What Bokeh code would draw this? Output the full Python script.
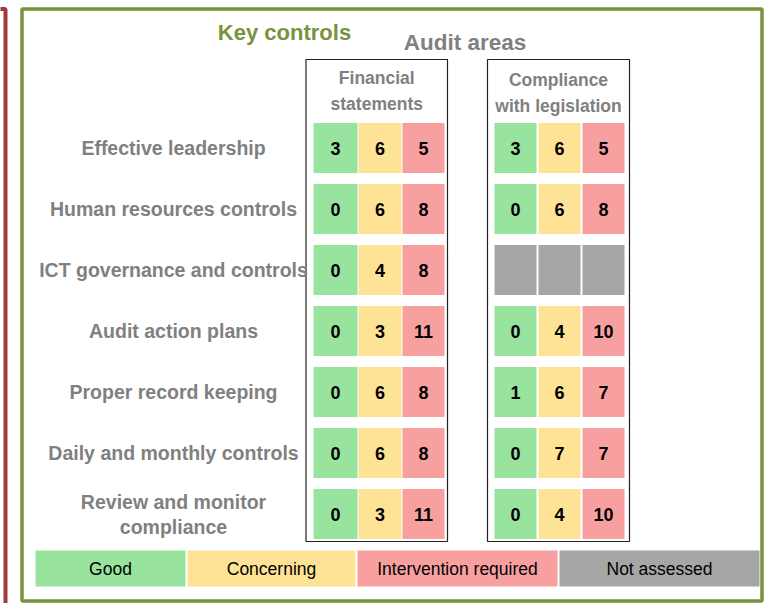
from bokeh.plotting import figure
from bokeh.models import Range1d, ColumnDataSource
from bokeh.embed import file_html
from bokeh.resources import INLINE
from bokeh.core.properties import value

# ---------------- data ----------------
controls = ["Effective leadership", "Human resources controls", "ICT governance and controls",
            "Audit action plans", "Proper record keeping", "Daily and monthly controls",
            "Review and monitor\ncompliance"]
areas = ["Financial\nstatements", "Compliance\nwith legislation"]
fin_good = [3, 0, 0, 0, 0, 0, 0]
fin_concerning = [6, 6, 4, 3, 6, 6, 3]
fin_intervention = [5, 8, 8, 11, 8, 8, 11]
comp_good = [3, 0, None, 0, 1, 0, 0]
comp_concerning = [6, 6, None, 4, 6, 7, 4]
comp_intervention = [5, 8, None, 10, 7, 7, 10]
legend_labels = ["Good", "Concerning", "Intervention required", "Not assessed"]
title_left = "Key controls"
title_right = "Audit areas"

# ---------------- style ----------------
GREEN = "#98E39E"
YELLOW = "#FEE396"
RED = "#F8A0A0"
GRAY = "#A6A6A6"
TXT_GRAY = "#808080"
FONT = "Liberation Sans"
status_colors = [GREEN, YELLOW, RED]

W, H = 765, 603
p = figure(width=W, height=H, output_backend="svg", toolbar_location=None,
           x_range=Range1d(0, W), y_range=Range1d(H, 0), min_border=0)
p.axis.visible = False
p.grid.visible = False
p.outline_line_color = None
p.background_fill_color = "white"
p.border_fill_color = "white"

# outer borders
p.line(x=[-5, 5, 5], y=[8.5, 8.5, 610], line_color="#A0393A", line_width=4)
p.rect(x=[391.5], y=[304.5], width=[740], height=[592], fill_color=None,
       line_color="#77933C", line_width=3.5)

# titles
p.text(x=[284], y=[32], text=[title_left], text_font=value(FONT), text_font_style="bold",
       text_font_size="22px", text_color="#77933C", text_align="center", text_baseline="middle")
p.text(x=[464.5], y=[42], text=[title_right], text_font=value(FONT), text_font_style="bold",
       text_font_size="22.5px", text_color=TXT_GRAY, text_align="center", text_baseline="middle")

# geometry
row_top0, row_pitch, cell_h = 122.5, 61, 50
area_col_centers = [[335, 379.5, 423], [515, 559, 603]]
area_col_widths = [[44, 43, 42], [42, 42, 42]]
area_box = [(305.5, 447), (487, 629)]
area_head_y = [77, 79]

# area boxes and headers
for a, name in enumerate(areas):
    x0, x1 = area_box[a]
    p.rect(x=[(x0 + x1) / 2], y=[300], width=[x1 - x0], height=[482],
           fill_color=None, line_color="#222222", line_width=1.2)
    lines = name.split("\n")
    p.text(x=[(x0 + x1) / 2] * len(lines), y=[area_head_y[a] + 26.5 * i for i in range(len(lines))],
           text=lines, text_font=value(FONT), text_font_style="bold", text_font_size="17.5px",
           text_color=TXT_GRAY, text_align="center", text_baseline="middle")

# row labels
for r, lab in enumerate(controls):
    cy = row_top0 + r * row_pitch + cell_h / 2
    lines = lab.split("\n")
    n = len(lines)
    ys = [cy + (i - (n - 1) / 2) * 25 for i in range(n)]
    p.text(x=[173] * n, y=ys, text=lines, text_font=value(FONT), text_font_style="bold",
           text_font_size="19.5px", text_color=TXT_GRAY, text_align="center", text_baseline="middle")

# cells
area_values = [[fin_good, fin_concerning, fin_intervention],
               [comp_good, comp_concerning, comp_intervention]]
xs, ys, ws, cs, labels = [], [], [], [], []
for a in range(2):
    for k in range(3):
        vals = area_values[a][k]
        for r, v in enumerate(vals):
            xs.append(area_col_centers[a][k])
            ys.append(row_top0 + r * row_pitch + cell_h / 2)
            ws.append(area_col_widths[a][k])
            cs.append(status_colors[k] if v is not None else GRAY)
            labels.append("" if v is None else str(v))
src = ColumnDataSource(dict(x=xs, y=ys, w=ws, c=cs, t=labels))
p.rect(x="x", y="y", width="w", height=cell_h, fill_color="c", line_color=None, source=src)
p.text(x="x", y="y", text="t", source=src, text_font=value(FONT), text_font_style="bold",
       text_font_size="18px", text_color="black", text_align="center", text_baseline="middle")

# legend bar
leg_edges = [(35, 185), (187, 355), (357, 557), (559, 759)]
leg_colors = [GREEN, YELLOW, RED, GRAY]
lx = [(a + b) / 2 for a, b in leg_edges]
lw = [b - a for a, b in leg_edges]
p.rect(x=lx, y=[568] * 4, width=lw, height=[36] * 4, fill_color=leg_colors, line_color=None)
p.text(x=lx, y=[568.5] * 4, text=legend_labels, text_font=value(FONT), text_font_size="17.5px",
       text_color="black", text_align="center", text_baseline="middle")

html = file_html(p, INLINE)
html = html.replace("<body>", '<body style="margin:0;">')
open("out.html", "w").write(html)
